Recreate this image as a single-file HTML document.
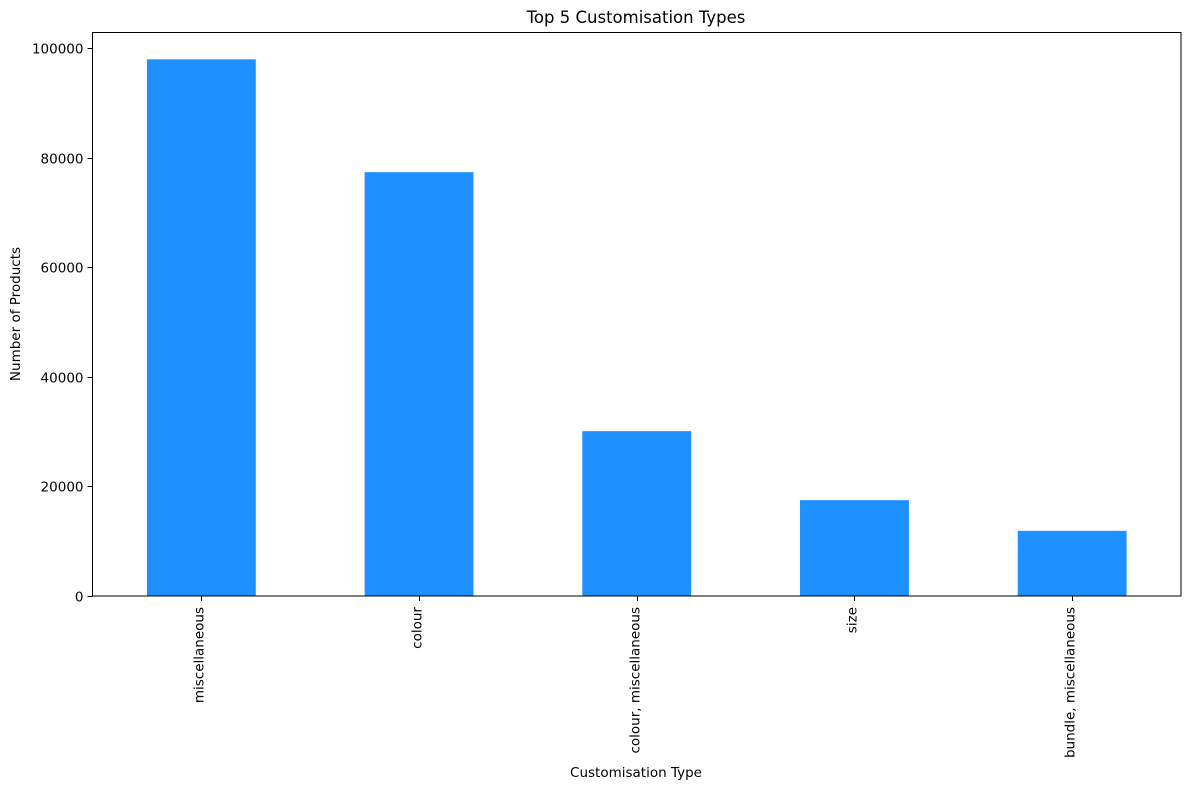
<!DOCTYPE html>
<html><head><meta charset="utf-8">
<style>
html,body{margin:0;padding:0;background:#fff;}
svg{display:block;font-family:"DejaVu Sans","Liberation Sans",sans-serif;}
</style></head>
<body>
<svg id="chart" width="1189" height="790" viewBox="0 0 1189 790">
<text x="636" y="23" font-size="16.5" text-anchor="middle">Top 5 Customisation Types</text>
<g id="plot"></g>
<text x="636" y="777" font-size="13.5" text-anchor="middle">Customisation Type</text>
<text transform="translate(20,314) rotate(-90)" font-size="13.5" text-anchor="middle">Number of Products</text>
</svg>
<script>
const categories = ["miscellaneous","colour","colour, miscellaneous","size","bundle, miscellaneous"];
const values = [98000, 77400, 30100, 17500, 11900];
const yTicks = [0, 20000, 40000, 60000, 80000, 100000];
const yMax = 102900;

const L = 92.5, R = 1181, T = 32.5, B = 596;
const NS = "http://www.w3.org/2000/svg";
const g = document.getElementById('plot');
const y = v => B - (v / yMax) * (B - T);
const step = (R - L) / categories.length;
const xc = i => L + step * (i + 0.5);
const bw = step * 0.5;
function mk(tag, attrs){const e=document.createElementNS(NS,tag);for(const k in attrs)e.setAttribute(k,attrs[k]);g.appendChild(e);return e;}

values.forEach((v,i)=>{
  const r = mk('rect',{x:xc(i)-bw/2,y:y(v),width:bw,height:B-y(v),fill:'#1e90ff'});
  
  
});
yTicks.forEach(t=>{
  const yy = Math.round(y(t))+0.5;
  const l = mk('line',{x1:L-5,x2:L,y1:yy,y2:yy,stroke:'#000','stroke-width':1});
  
  
  const tx = mk('text',{x:L-9,y:yy+5,'font-size':13.5,'text-anchor':'end'});
  tx.textContent = t;
  
  
});
categories.forEach((c,i)=>{
  const xx = Math.round(xc(i))+0.5;
  const l = mk('line',{x1:xx,x2:xx,y1:B,y2:B+5,stroke:'#000','stroke-width':1});
  
  
  const tx = mk('text',{transform:`translate(${xx+2},${B+11}) rotate(-90)`,'font-size':13.5,'text-anchor':'end'});
  tx.textContent = c;
  
  
});
const frame = mk('rect',{x:L,y:T,width:R-L,height:B-T,fill:'none',stroke:'#000','stroke-width':1});


</script>
</body></html>
